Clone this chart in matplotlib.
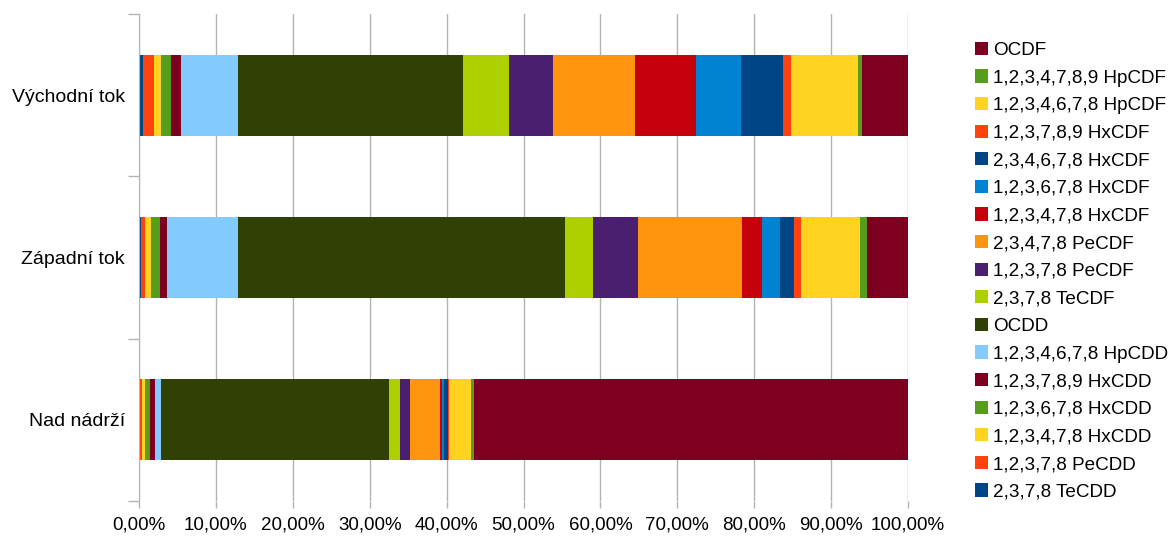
import numpy as np
import matplotlib
matplotlib.use("Agg")
import matplotlib.pyplot as plt
from matplotlib.patches import Patch
from matplotlib.ticker import FuncFormatter

plt.rcParams['font.family'] = ['Liberation Sans', 'DejaVu Sans']

# bars from bottom to top
locations = ["Nad nádrží", "Západní tok", "Východní tok"]

congeners = [
    "2,3,7,8 TeCDD",
    "1,2,3,7,8 PeCDD",
    "1,2,3,4,7,8 HxCDD",
    "1,2,3,6,7,8 HxCDD",
    "1,2,3,7,8,9 HxCDD",
    "1,2,3,4,6,7,8 HpCDD",
    "OCDD",
    "2,3,7,8 TeCDF",
    "1,2,3,7,8 PeCDF",
    "2,3,4,7,8 PeCDF",
    "1,2,3,4,7,8 HxCDF",
    "1,2,3,6,7,8 HxCDF",
    "2,3,4,6,7,8 HxCDF",
    "1,2,3,7,8,9 HxCDF",
    "1,2,3,4,6,7,8 HpCDF",
    "1,2,3,4,7,8,9 HpCDF",
    "OCDF",
]

# share of each congener in %, one list per location (same order as congeners)
nad_nadrzi = [0.13, 0.26, 0.39, 0.65, 0.65, 0.78, 29.65, 1.43, 1.30, 3.90,
              0.26, 0.26, 0.52, 0.10, 2.86, 0.39, 56.47]
zapadni_tok = [0.26, 0.52, 0.78, 1.17, 0.91, 9.23, 42.52, 3.64, 5.85, 13.52,
               2.60, 2.34, 1.82, 0.91, 7.67, 0.91, 5.35]
vychodni_tok = [0.52, 1.43, 0.91, 1.30, 1.30, 7.41, 29.26, 5.98, 5.72, 10.66,
                7.93, 5.85, 5.46, 1.04, 8.71, 0.52, 6.00]

colors = ["#004586", "#ff420e", "#ffd320", "#579d1c", "#7e0021", "#83caff",
          "#314004", "#aecf00", "#4b1f6f", "#ff950e", "#c5000b", "#0084d1",
          "#004586", "#ff420e", "#ffd320", "#579d1c", "#7e0021"]

data = np.array([nad_nadrzi, zapadni_tok, vychodni_tok])

fig = plt.figure(figsize=(11.72, 5.37), dpi=100)
ax = fig.add_axes([139 / 1172, 1 - 501 / 537, 769 / 1172, 487 / 537])

y = np.arange(len(locations))
left = np.zeros(len(locations))
for i, name in enumerate(congeners):
    ax.barh(y, data[:, i], left=left, height=0.5, color=colors[i],
            edgecolor='none', zorder=3)
    left += data[:, i]

ax.set_xlim(0, 100)
ax.set_ylim(-0.5, 2.5)
ax.set_xticks(np.arange(0, 101, 10))
ax.xaxis.set_major_formatter(FuncFormatter(lambda v, p: ("%.2f%%" % v).replace(".", ",")))
ax.grid(axis='x', color='#b3b3b3', linewidth=1, zorder=0)

ax.set_yticks(y)
ax.set_yticklabels(locations)
ax.set_yticks(np.arange(-0.5, 3, 1), minor=True)
ax.tick_params(axis='y', which='major', length=0, pad=10, labelsize=14)
ax.tick_params(axis='y', which='minor', length=8, color='#b3b3b3', width=1)
ax.tick_params(axis='x', length=5, color='#b3b3b3', width=1, pad=6, labelsize=13.5)

for s in ['top', 'right', 'bottom']:
    ax.spines[s].set_visible(False)
ax.spines['left'].set_color('#b3b3b3')
ax.spines['left'].set_zorder(4)

handles = [Patch(facecolor=colors[i], edgecolor='none', label=congeners[i])
           for i in range(len(congeners))][::-1]
fig.legend(handles=handles, loc='center left', bbox_to_anchor=(967 / 1172, 0.495),
           frameon=False, fontsize=13.6, handlelength=0.7, handleheight=0.7,
           handletextpad=0.3, labelspacing=0.55, borderaxespad=0)

fig.savefig("out.png", dpi=100)
